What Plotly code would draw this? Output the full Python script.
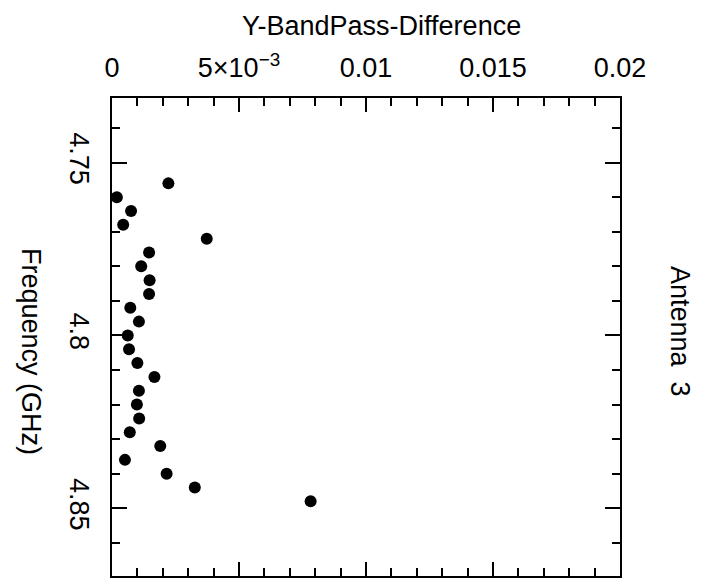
import plotly.graph_objects as go

# Data
freq_ghz = [4.756, 4.760, 4.764, 4.768, 4.772, 4.776, 4.780, 4.784,
            4.788, 4.792, 4.796, 4.800, 4.804, 4.808, 4.812, 4.816,
            4.820, 4.824, 4.828, 4.832, 4.836, 4.840, 4.844, 4.848]
bandpass_diff = [0.00222, 0.00019, 0.00075, 0.00044, 0.00373, 0.00146,
                 0.00115, 0.00148, 0.00146, 0.00072, 0.00106, 0.00062,
                 0.00067, 0.00100, 0.00167, 0.00106, 0.00098, 0.00107,
                 0.00070, 0.00190, 0.00051, 0.00215, 0.00326, 0.00782]

x_tickvals = [0, 0.005, 0.01, 0.015, 0.02]
x_ticktext = ["0", "5×10<sup>−3</sup>", "0.01", "0.015", "0.02"]
y_tickvals = [4.75, 4.80, 4.85]
y_ticktext = ["4.75", "4.8", "4.85"]

FONT = "Liberation Sans, Arial, sans-serif"

fig = go.Figure()
fig.add_trace(go.Scatter(
    x=bandpass_diff, y=freq_ghz, mode="markers",
    marker=dict(color="black", size=12),
    showlegend=False, hoverinfo="skip",
))

fig.update_layout(
    width=711, height=583,
    margin=dict(l=112, r=91, t=98, b=5),
    paper_bgcolor="white", plot_bgcolor="white",
    font=dict(family=FONT, size=27, color="black"),
    xaxis=dict(
        side="top", range=[0, 0.02],
        tickvals=x_tickvals, ticktext=x_ticktext,
        ticks="inside", ticklen=14, tickwidth=2, tickcolor="black",
        minor=dict(dtick=0.001, ticks="inside", ticklen=8, tickwidth=2, tickcolor="black"),
        showline=True, linewidth=2, linecolor="black", mirror="ticks",
        showgrid=False, zeroline=False,
        tickfont=dict(size=27), ticklabelstandoff=8,
    ),
    yaxis=dict(
        range=[4.8696, 4.7313],
        tickvals=y_tickvals, ticktext=y_ticktext, tickangle=90,
        ticks="inside", ticklen=15, tickwidth=2, tickcolor="black",
        minor=dict(dtick=0.01, ticks="inside", ticklen=8, tickwidth=2, tickcolor="black"),
        showline=True, linewidth=2, linecolor="black", mirror="ticks",
        showgrid=False, zeroline=False,
        tickfont=dict(size=27), ticklabelstandoff=8,
    ),
    annotations=[
        dict(text="Y-BandPass-Difference", xref="paper", yref="paper",
             x=(240 - 112) / 508, y=1 + (98 - 26) / 480,
             xanchor="left", yanchor="middle", showarrow=False,
             font=dict(size=27)),
        dict(text="Frequency (GHz)", xref="paper", yref="paper",
             x=-(112 - 31) / 508, y=(578 - 352) / 480,
             xanchor="center", yanchor="middle", showarrow=False,
             textangle=90, font=dict(size=27)),
        dict(text="Antenna  3", xref="paper", yref="paper",
             x=1 + (680 - 620) / 508, y=(578 - 332) / 480,
             xanchor="center", yanchor="middle", showarrow=False,
             textangle=90, font=dict(size=27)),
    ],
)

fig.write_html("out.html")
